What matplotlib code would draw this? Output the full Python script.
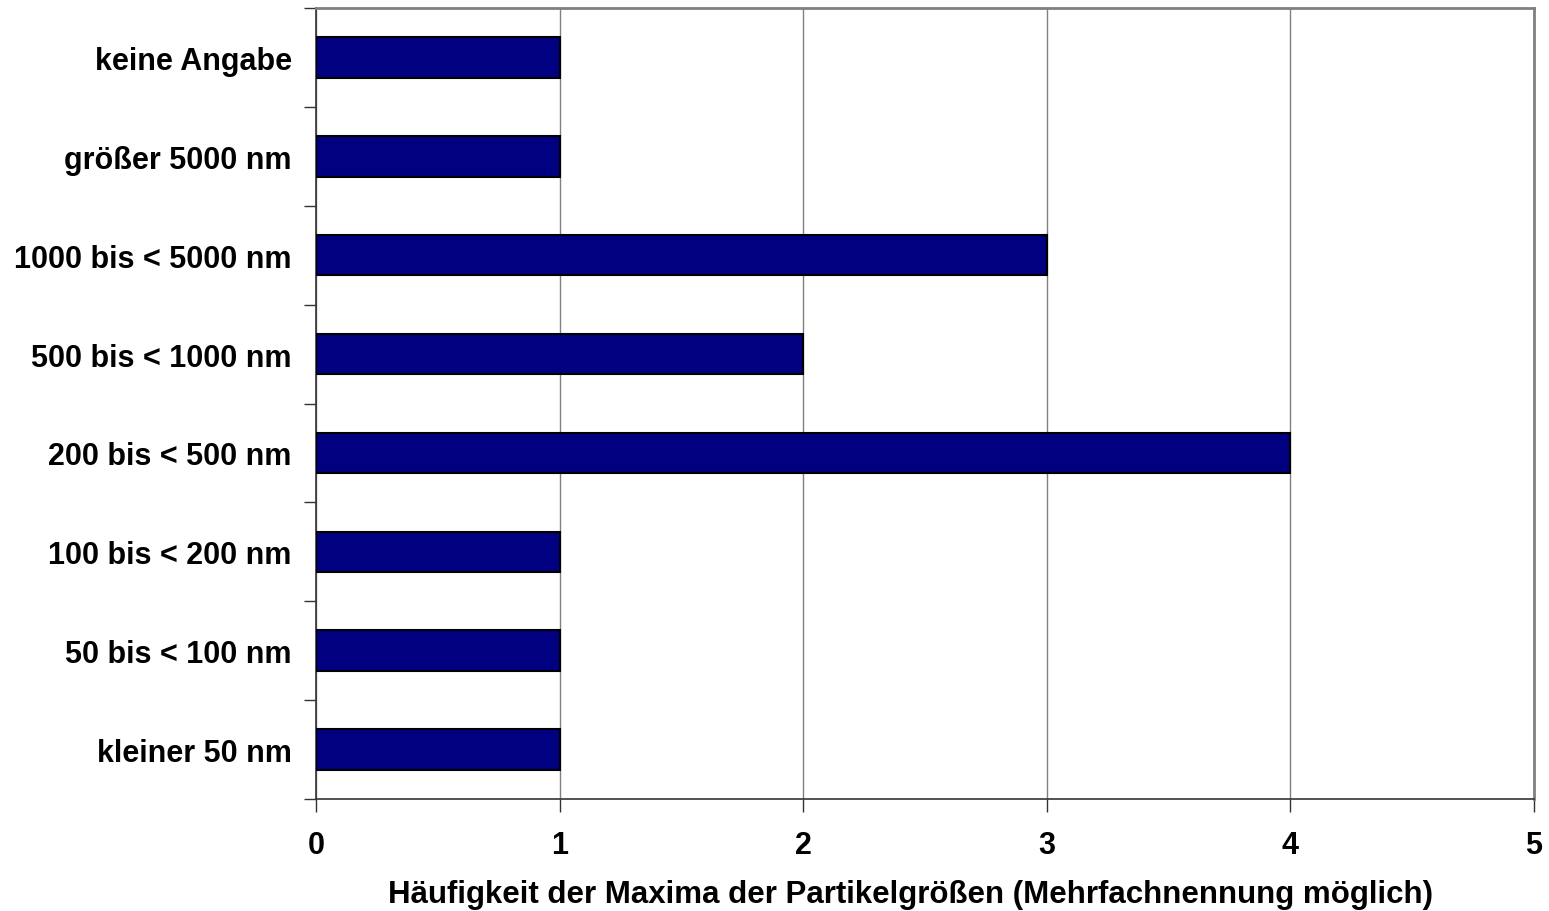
import matplotlib
matplotlib.use("Agg")
import matplotlib.pyplot as plt
import numpy as np

categories = ["kleiner 50 nm", "50 bis < 100 nm", "100 bis < 200 nm", "200 bis < 500 nm",
              "500 bis < 1000 nm", "1000 bis < 5000 nm", "größer 5000 nm", "keine Angabe"]
values = [1, 1, 1, 4, 2, 3, 1, 1]
xticks = [0, 1, 2, 3, 4, 5]
xlabel = "Häufigkeit der Maxima der Partikelgrößen (Mehrfachnennung möglich)"

plt.rcParams['font.family'] = ['Liberation Sans', 'DejaVu Sans']
fig = plt.figure(figsize=(15.49, 9.12), dpi=100)
ax = fig.add_axes([316/1549, 112/912, (1534-316)/1549, (800-9)/912])

y = np.arange(len(categories))
ax.barh(y, values, height=0.41, color="#000080", edgecolor="black", linewidth=1.5, zorder=3)
ax.set_xlim(0, 5)
ax.set_ylim(-0.5, len(categories) - 0.5)
ax.set_xticks(xticks)
ax.set_xticklabels([str(t) for t in xticks], fontsize=22, fontweight="bold")
ax.set_yticks(y)
ax.set_yticklabels(categories, fontsize=22, fontweight="bold")
ax.tick_params(axis="y", length=0, pad=17.5)
ax.set_yticks(np.arange(len(categories) + 1) - 0.5, minor=True)
ax.tick_params(axis="y", which="minor", length=9, width=1, color="#333333")
ax.tick_params(axis="x", length=9, width=1, color="#333333", pad=13)
ax.grid(axis="x", color="#808080", linewidth=1, zorder=0)
for s in ["top", "right"]:
    ax.spines[s].set_color("#808080")
    ax.spines[s].set_linewidth(2)
for s in ["left", "bottom"]:
    ax.spines[s].set_color("#333333")
    ax.spines[s].set_linewidth(1.2)
ax.set_xlabel(xlabel, fontsize=22.5, fontweight="bold", labelpad=14, x=0.488)
fig.savefig("out.png", dpi=100)
